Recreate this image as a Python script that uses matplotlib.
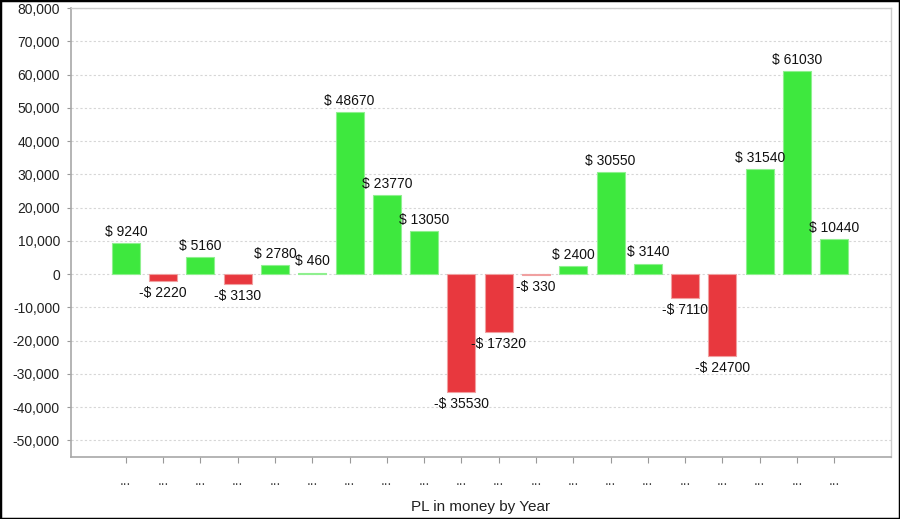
import matplotlib
matplotlib.use("Agg")
import matplotlib.pyplot as plt
from matplotlib.patches import Rectangle
import numpy as np

values = [9240, -2220, 5160, -3130, 2780, 460, 48670, 23770, 13050, -35530,
          -17320, -330, 2400, 30550, 3140, -7110, -24700, 31540, 61030, 10440]
tick_labels = ["..."] * len(values)
y_ticks = list(range(-50000, 80001, 10000))
x_title = "PL in money by Year"

plt.rcParams['font.family'] = ['Liberation Sans', 'DejaVu Sans']

fig = plt.figure(figsize=(9, 5.19), dpi=100)
ax = fig.add_axes([71/900, 1-457/519, (891-71)/900, (457-8)/519])

x = np.arange(len(values))
green = "#3ee83e"
red = "#e8383e"
colors = [green if v >= 0 else red for v in values]
edges = ["#8ff08f" if v >= 0 else "#f0a0a0" for v in values]
ax.bar(x, values, width=0.75, color=colors, edgecolor=edges, linewidth=0.8, zorder=3)

for xi, v in zip(x, values):
    if v >= 0:
        ax.annotate(f"$ {v}", (xi, v), xytext=(0, 3), textcoords="offset points",
                    ha="center", va="bottom", fontsize=10, color="#111111", zorder=4)
    else:
        ax.annotate(f"-$ {abs(v)}", (xi, v), xytext=(0, -3.5), textcoords="offset points",
                    ha="center", va="top", fontsize=10, color="#111111", zorder=4)

ax.set_xlim(-1.47, 20.52)
ax.set_ylim(-55000, 80000)
ax.set_yticks(y_ticks)
ax.set_yticklabels([f"{t:,}" for t in y_ticks])
ax.set_xticks(x)
ax.set_xticklabels(tick_labels)
ax.tick_params(axis="y", length=3, width=0.8, color="#999999", pad=5, labelsize=10, labelcolor="#222222")
ax.tick_params(axis="x", length=4, width=0.8, color="#999999", pad=8, labelsize=10, labelcolor="#444444")
ax.set_xlabel(x_title, fontsize=11, color="#222222", labelpad=9)

ax.yaxis.grid(True, color="#d6d6d6", linestyle=(0, (2, 2)), linewidth=0.8, zorder=0)
ax.set_axisbelow(True)

for side in ["left", "bottom"]:
    ax.spines[side].set_color("#a8a8a8")
    ax.spines[side].set_linewidth(1.2)
for side in ["top", "right"]:
    ax.spines[side].set_color("#cccccc")
    ax.spines[side].set_linewidth(1.0)

fig.patches.append(Rectangle((0, 0), 1, 1, transform=fig.transFigure, fill=False,
                             edgecolor="black", linewidth=2.5, zorder=10))

fig.savefig("out.png", dpi=100)
